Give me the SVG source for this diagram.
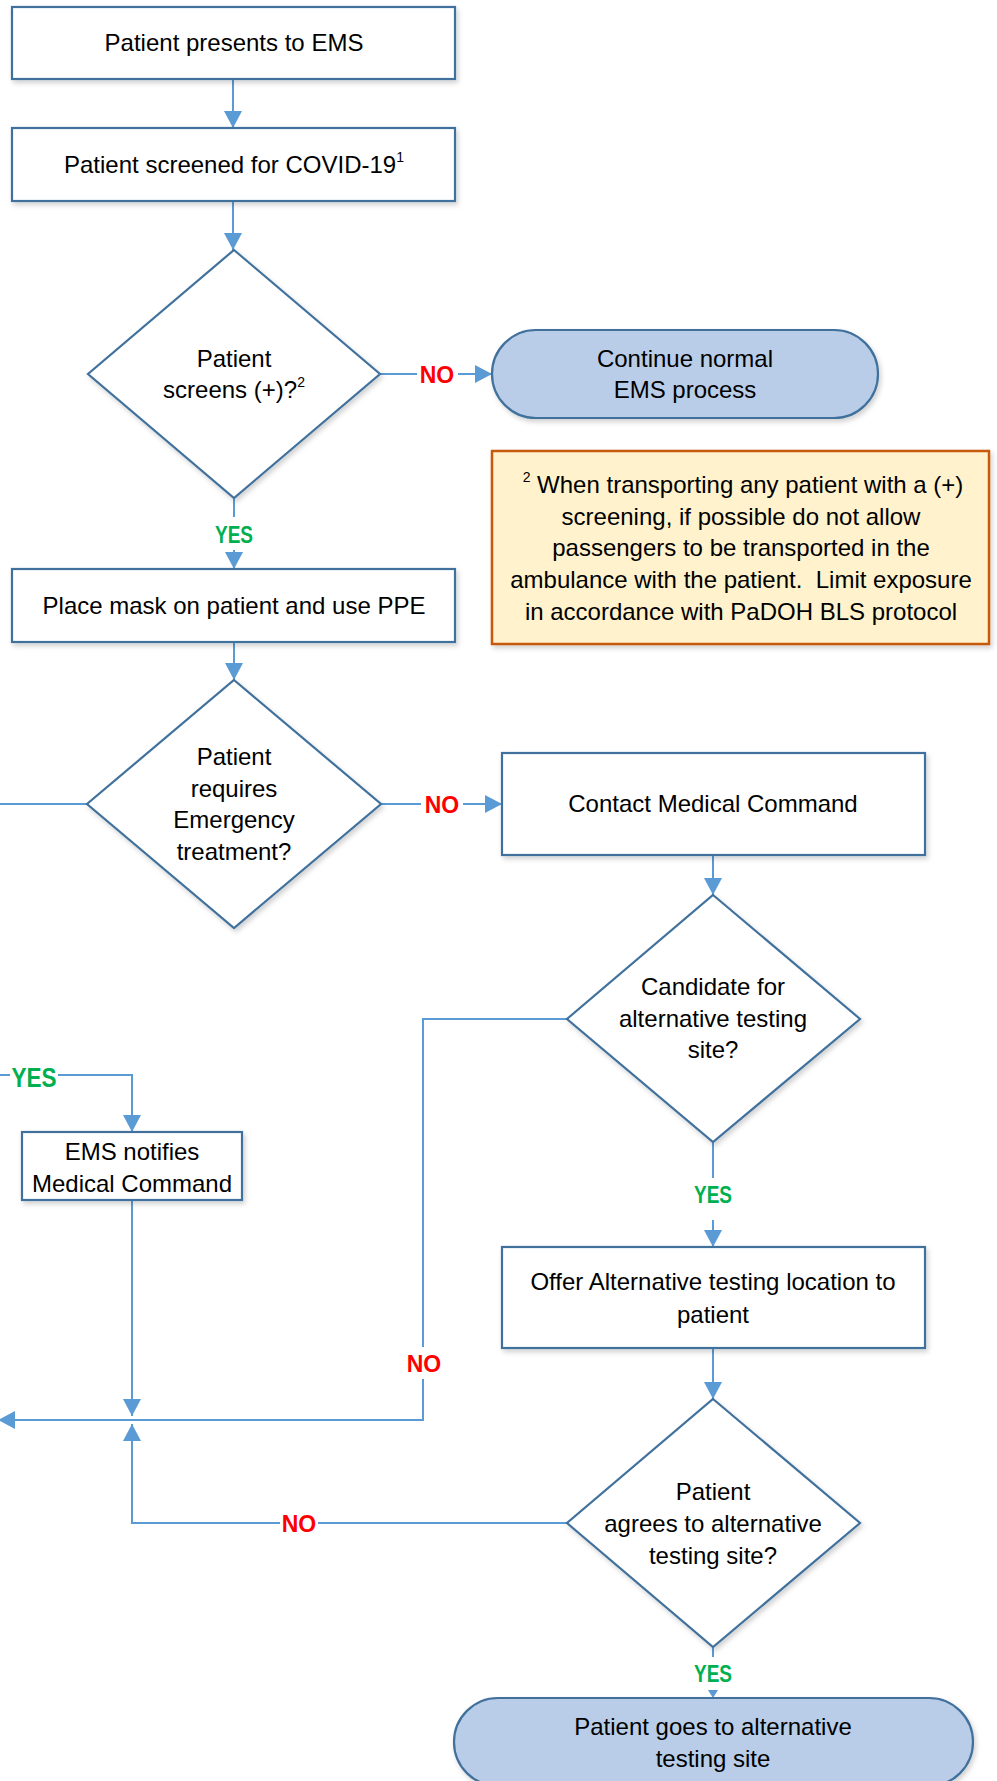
<svg xmlns="http://www.w3.org/2000/svg" width="997" height="1781" viewBox="0 0 997 1781">
<style>
text{font-family:"Liberation Sans",Arial,sans-serif;font-size:24px;fill:#000;text-anchor:middle}
.box{fill:#fff;stroke:#41719C;stroke-width:2.2}
.term{fill:#B9CDE8;stroke:#41719C;stroke-width:2.2}
.note{fill:#FFF2CC;stroke:#C55A11;stroke-width:2.5}
.c{fill:none;stroke:#5B9BD5;stroke-width:2}
.no{fill:#FF0000;font-weight:bold;font-size:23px}
.yes{fill:#00B050;font-weight:bold;font-size:23px}
.sup{font-size:14px}
</style>
<defs>
<marker id="ah" markerUnits="userSpaceOnUse" markerWidth="18" markerHeight="18" refX="17" refY="9" orient="auto">
<path d="M0,0 L17,9 L0,18 z" fill="#5B9BD5"/>
</marker>
<filter id="sh" x="-10%" y="-10%" width="125%" height="130%">
<feDropShadow dx="2" dy="3" stdDeviation="2.5" flood-color="#000" flood-opacity="0.18"/>
</filter>
</defs>

<g id="connectors">
<line class="c" x1="233" y1="79" x2="233" y2="128" marker-end="url(#ah)"/>
<line class="c" x1="233" y1="201" x2="233" y2="250" marker-end="url(#ah)"/>
<line class="c" x1="380" y1="374" x2="417" y2="374"/>
<line class="c" x1="458" y1="374" x2="492" y2="374" marker-end="url(#ah)"/>
<line class="c" x1="234" y1="498" x2="234" y2="517"/>
<line class="c" x1="234" y1="550" x2="234" y2="569" marker-end="url(#ah)"/>
<line class="c" x1="234" y1="642" x2="234" y2="680" marker-end="url(#ah)"/>
<line class="c" x1="87" y1="804" x2="0" y2="804"/>
<line class="c" x1="380" y1="804" x2="421" y2="804"/>
<line class="c" x1="463" y1="804" x2="502" y2="804" marker-end="url(#ah)"/>
<line class="c" x1="713" y1="855" x2="713" y2="895" marker-end="url(#ah)"/>
<line class="c" x1="713" y1="1142" x2="713" y2="1178"/>
<line class="c" x1="713" y1="1220" x2="713" y2="1247" marker-end="url(#ah)"/>
<line class="c" x1="713" y1="1348" x2="713" y2="1399" marker-end="url(#ah)"/>
<path class="c" d="M567,1019 H423 V1347"/>
<path class="c" d="M423,1379 V1420 H-2" marker-end="url(#ah)"/>
<line class="c" x1="0" y1="1075" x2="10" y2="1075"/>
<path class="c" d="M58,1075 H132 V1132" marker-end="url(#ah)"/>
<line class="c" x1="132" y1="1200" x2="132" y2="1416" marker-end="url(#ah)"/>
<line class="c" x1="567" y1="1523" x2="318" y2="1523"/>
<path class="c" d="M280,1523 H132 V1424" marker-end="url(#ah)"/>
<line class="c" x1="713" y1="1647" x2="713" y2="1657"/>
<line class="c" x1="713" y1="1690" x2="713" y2="1694"/>
<path d="M708,1690 L718,1690 L713,1698 z" fill="#5B9BD5"/>
<text class="no" x="437" y="383">NO</text>
<text class="yes" x="234" y="543" textLength="38" lengthAdjust="spacingAndGlyphs">YES</text>
<text class="no" x="442" y="813">NO</text>
<text class="yes" x="713" y="1203" textLength="38" lengthAdjust="spacingAndGlyphs">YES</text>
<text class="no" x="424" y="1372">NO</text>
<text class="yes" x="34" y="1087" style="font-size:27px" textLength="45" lengthAdjust="spacingAndGlyphs">YES</text>
<text class="no" x="299" y="1532">NO</text>
<text class="yes" x="713" y="1682" textLength="38" lengthAdjust="spacingAndGlyphs">YES</text>
</g>

<g id="n1">
<rect class="box" x="12" y="7" width="443" height="72" filter="url(#sh)"/>
<text x="234" y="51">Patient presents to EMS</text>
</g>
<g id="n2">
<rect class="box" x="12" y="128" width="443" height="73" filter="url(#sh)"/>
<text x="234" y="173">Patient screened for COVID-19<tspan class="sup" dy="-11">1</tspan></text>
</g>
<g id="d1">
<polygon class="box" points="234,250 380,374 234,498 88,374" filter="url(#sh)"/>
<text x="234" y="367">Patient</text>
<text x="234" y="398">screens (+)?<tspan class="sup" dy="-11">2</tspan></text>
</g>
<g id="t1">
<rect class="term" x="492" y="330" width="386" height="88" rx="44" filter="url(#sh)"/>
<text x="685" y="367">Continue normal</text>
<text x="685" y="398">EMS process</text>
</g>
<g id="note">
<rect class="note" x="492" y="451" width="497" height="193" filter="url(#sh)"/>
<text x="743" y="493"><tspan class="sup" dy="-11">2</tspan><tspan dy="11"> When transporting any patient with a (+)</tspan></text>
<text x="741" y="525">screening, if possible do not allow</text>
<text x="741" y="556">passengers to be transported in the</text>
<text x="741" y="588" xml:space="preserve">ambulance with the patient.  Limit exposure</text>
<text x="741" y="620">in accordance with PaDOH BLS protocol</text>
</g>
<g id="n3">
<rect class="box" x="12" y="569" width="443" height="73" filter="url(#sh)"/>
<text x="234" y="614">Place mask on patient and use PPE</text>
</g>
<g id="d2">
<polygon class="box" points="234,680 381,804 234,928 87,804" filter="url(#sh)"/>
<text x="234" y="765">Patient</text>
<text x="234" y="797">requires</text>
<text x="234" y="828">Emergency</text>
<text x="234" y="860">treatment?</text>
</g>
<g id="n4">
<rect class="box" x="502" y="753" width="423" height="102" filter="url(#sh)"/>
<text x="713" y="812">Contact Medical Command</text>
</g>
<g id="d3">
<polygon class="box" points="713,895 860,1019 713,1142 567,1019" filter="url(#sh)"/>
<text x="713" y="995">Candidate for</text>
<text x="713" y="1027">alternative testing</text>
<text x="713" y="1058">site?</text>
</g>
<g id="n5">
<rect class="box" x="22" y="1132" width="220" height="68" filter="url(#sh)"/>
<text x="132" y="1160">EMS notifies</text>
<text x="132" y="1192">Medical Command</text>
</g>
<g id="n6">
<rect class="box" x="502" y="1247" width="423" height="101" filter="url(#sh)"/>
<text x="713" y="1290">Offer Alternative testing location to</text>
<text x="713" y="1323">patient</text>
</g>
<g id="d4">
<polygon class="box" points="713,1399 860,1523 713,1647 567,1523" filter="url(#sh)"/>
<text x="713" y="1500">Patient</text>
<text x="713" y="1532">agrees to alternative</text>
<text x="713" y="1564">testing site?</text>
</g>
<g id="t2">
<rect class="term" x="454" y="1698" width="519" height="88" rx="44" filter="url(#sh)"/>
<text x="713" y="1735">Patient goes to alternative</text>
<text x="713" y="1767">testing site</text>
</g>
</svg>
